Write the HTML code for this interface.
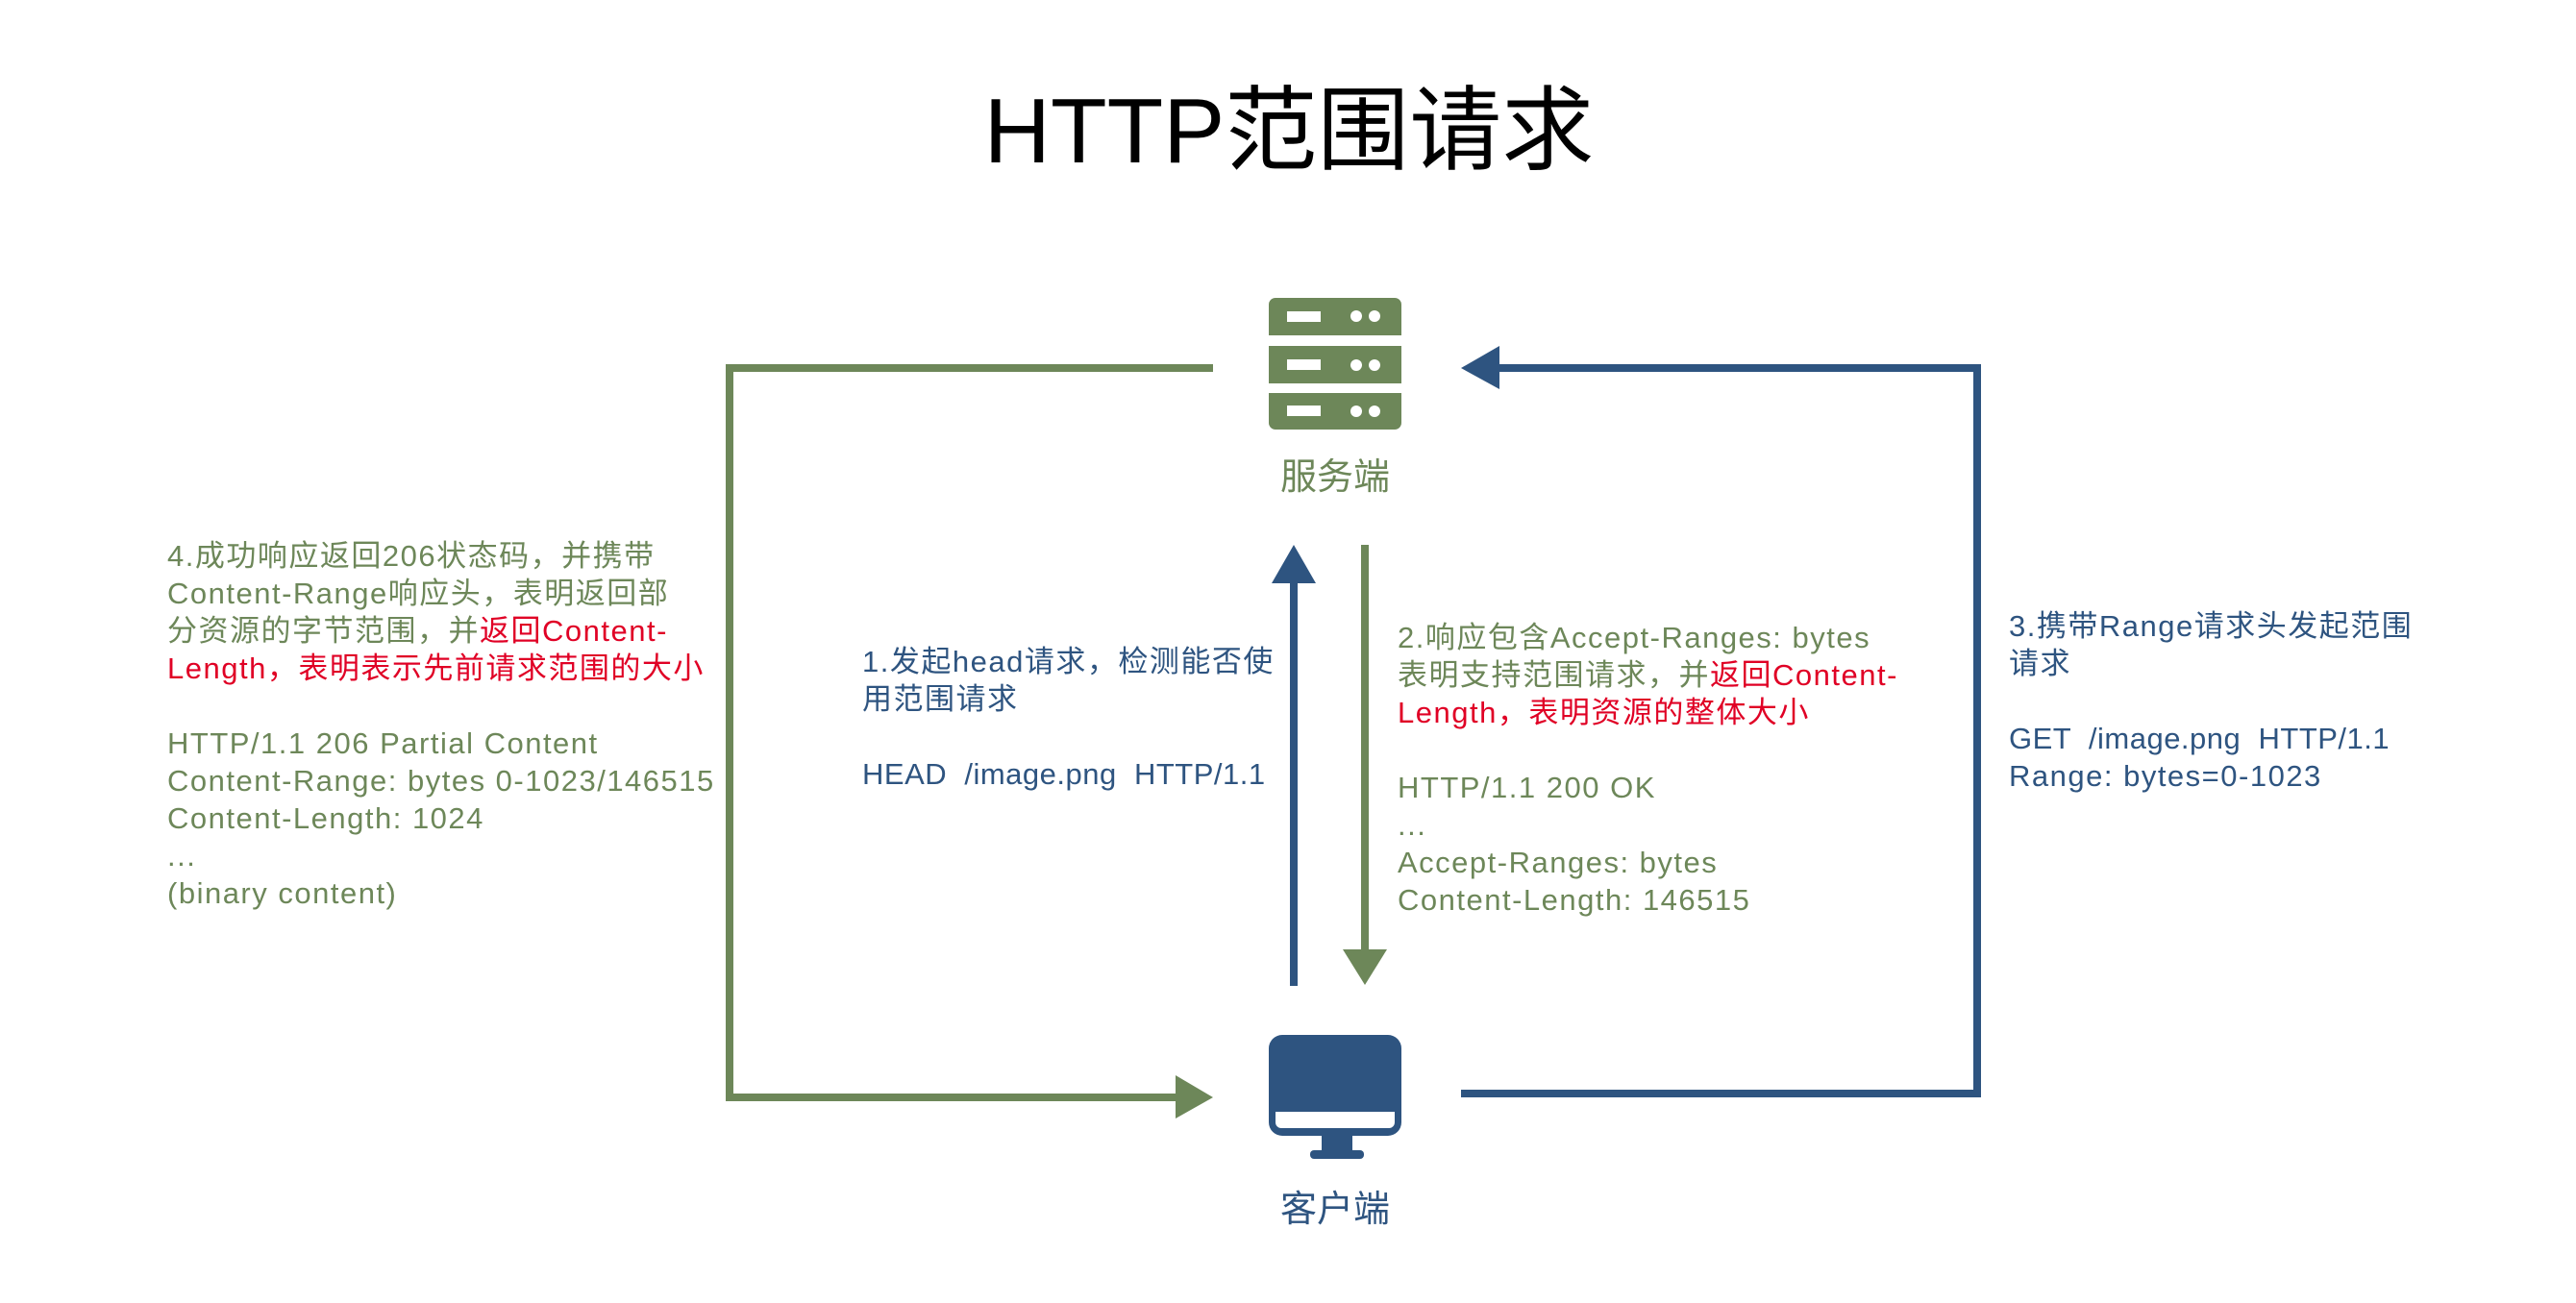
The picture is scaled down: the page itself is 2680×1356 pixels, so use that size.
<!DOCTYPE html>
<html><head><meta charset="utf-8">
<style>
html,body{margin:0;padding:0;background:#fff;}
body{width:2680px;height:1351px;overflow:hidden;}
text{font-family:"Liberation Sans","Noto Sans CJK SC",sans-serif;}
.t text{letter-spacing:1.5px;}
.t text.n{letter-spacing:0.5px;}
</style></head><body>
<svg width="2680" height="1351" viewBox="0 0 2680 1351" xmlns="http://www.w3.org/2000/svg">
<rect width="2680" height="1351" fill="#fff"/>
<text x="1341" y="169" font-size="96" text-anchor="middle" fill="#000">HTTP范围请求</text>

<g fill="#6d8759">
<path d="M1327 310 H1451 a7 7 0 0 1 7 7 V349 H1320 V317 a7 7 0 0 1 7-7z"/>
<rect x="1320" y="360" width="138" height="39"/>
<path d="M1320 409 H1458 V440 a7 7 0 0 1 -7 7 H1327 a7 7 0 0 1 -7-7z"/>
</g>
<g fill="#fff">
<rect x="1339" y="324" width="35" height="11"/><circle cx="1411" cy="329" r="6"/><circle cx="1430" cy="329" r="6"/>
<rect x="1339" y="374" width="35" height="11"/><circle cx="1411" cy="380" r="6"/><circle cx="1430" cy="380" r="6"/>
<rect x="1339" y="422" width="35" height="11"/><circle cx="1411" cy="428" r="6"/><circle cx="1430" cy="428" r="6"/>
</g>
<text x="1389" y="509" font-size="38" text-anchor="middle" fill="#6d8759">服务端</text>

<g fill="#2e5480">
<rect x="1320" y="1077" width="138" height="105" rx="14"/>
<rect x="1375" y="1180" width="32" height="20"/>
<rect x="1363" y="1197" width="56" height="9" rx="4"/>
</g>
<path d="M1327 1157 H1451 V1168 a6 6 0 0 1 -6 6 H1333 a6 6 0 0 1 -6-6z" fill="#fff"/>
<text x="1389" y="1271" font-size="38" text-anchor="middle" fill="#2e5480">客户端</text>

<polyline points="1262,383 759,383 759,1142 1225,1142" fill="none" stroke="#6d8759" stroke-width="8"/>
<polygon points="1223,1119 1262,1142 1223,1164" fill="#6d8759"/>

<polyline points="1520,1138 2057,1138 2057,383 1558,383" fill="none" stroke="#2e5480" stroke-width="8"/>
<polygon points="1520,383 1560,360 1560,405" fill="#2e5480"/>

<line x1="1346" y1="1026" x2="1346" y2="600" stroke="#2e5480" stroke-width="8"/>
<polygon points="1346,567 1369,607 1323,607" fill="#2e5480"/>
<line x1="1420" y1="567" x2="1420" y2="995" stroke="#6d8759" stroke-width="8"/>
<polygon points="1420,1025 1397,988 1443,988" fill="#6d8759"/>

<g class="t" font-size="31" fill="#6d8759">
<text x="174" y="589">4.成功响应返回206状态码，并携带</text>
<text x="174" y="628">Content-Range响应头，表明返回部</text>
<text x="174" y="667">分资源的字节范围，并<tspan fill="#e00025">返回Content-</tspan></text>
<text x="174" y="706" fill="#e00025">Length，表明表示先前请求范围的大小</text>
<text x="174" y="784">HTTP/1.1 206 Partial Content</text>
<text x="174" y="823">Content-Range: bytes 0-1023/146515</text>
<text x="174" y="862">Content-Length: 1024</text>
<text x="174" y="901">...</text>
<text x="174" y="940">(binary content)</text>
</g>

<g class="t" font-size="31" fill="#2e5480">
<text x="897" y="699">1.发起head请求，检测能否使</text>
<text x="897" y="738">用范围请求</text>
<text class="n" x="897" y="816" xml:space="preserve">HEAD  /image.png  HTTP/1.1</text>
</g>

<g class="t" font-size="31" fill="#6d8759">
<text x="1454" y="674">2.响应包含Accept-Ranges: bytes</text>
<text x="1454" y="713">表明支持范围请求，并<tspan fill="#e00025">返回Content-</tspan></text>
<text x="1454" y="752" fill="#e00025">Length，表明资源的整体大小</text>
<text x="1454" y="830">HTTP/1.1 200 OK</text>
<text x="1454" y="869">...</text>
<text x="1454" y="908">Accept-Ranges: bytes</text>
<text x="1454" y="947">Content-Length: 146515</text>
</g>

<g class="t" font-size="31" fill="#2e5480">
<text x="2090" y="662">3.携带Range请求头发起范围</text>
<text x="2090" y="701">请求</text>
<text class="n" x="2090" y="779" xml:space="preserve">GET  /image.png  HTTP/1.1</text>
<text x="2090" y="818">Range: bytes=0-1023</text>
</g>
</svg>
</body></html>
